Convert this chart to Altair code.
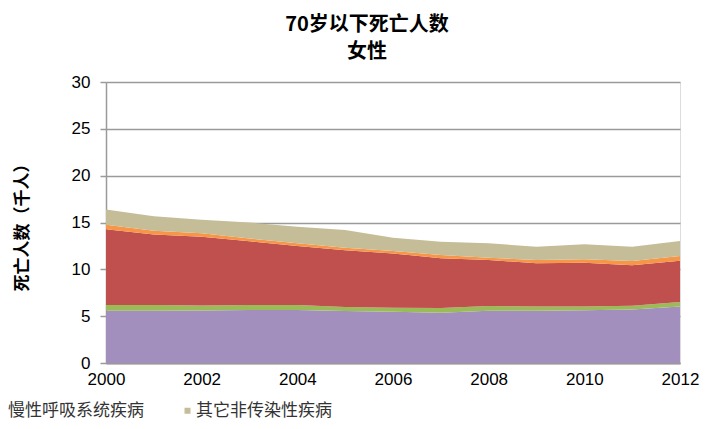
import altair as alt
import pandas as pd

years = list(range(2000, 2013))
series_names = [
    "传染性、孕产期、围生期和营养性疾病",
    "糖尿病",
    "心血管疾病和癌症",
    "慢性呼吸系统疾病",
    "其它非传染性疾病",
]
series_colors = ["#A28FBD", "#9BBB59", "#C0504D", "#F79646", "#C4BD97"]

purple = [5.58, 5.58, 5.60, 5.66, 5.66, 5.55, 5.48, 5.37, 5.58, 5.58, 5.62, 5.72, 6.02]
green = [0.61, 0.61, 0.55, 0.53, 0.54, 0.43, 0.42, 0.50, 0.51, 0.44, 0.40, 0.40, 0.49]
red = [8.08, 7.54, 7.34, 6.81, 6.29, 6.05, 5.80, 5.30, 4.91, 4.62, 4.69, 4.31, 4.41]
orange = [0.50, 0.40, 0.35, 0.30, 0.29, 0.28, 0.26, 0.36, 0.24, 0.36, 0.36, 0.46, 0.50]
tan = [1.63, 1.53, 1.46, 1.70, 1.77, 1.89, 1.42, 1.42, 1.54, 1.42, 1.60, 1.53, 1.60]

y_ticks = [0, 5, 10, 15, 20, 25, 30]
x_ticks = [2000, 2002, 2004, 2006, 2008, 2010, 2012]
legend_shown = ["慢性呼吸系统疾病", "其它非传染性疾病"]

rows = []
for i, (name, vals) in enumerate(zip(series_names, [purple, green, red, orange, tan])):
    for y, v in zip(years, vals):
        rows.append({"年份": y, "死亡人数": v, "疾病": name, "序号": i})
df = pd.DataFrame(rows)

chart = alt.Chart(df).mark_area(opacity=1, interpolate="linear").encode(
    x=alt.X(
        "年份:Q",
        scale=alt.Scale(domain=[2000, 2012], nice=False, zero=False),
        axis=alt.Axis(
            values=x_ticks, format="d", title=None, grid=False, ticks=False,
            labelFontSize=17, labelPadding=8, labelFont="Liberation Sans",
            labelColor="#000000", labelFlush=False, domainColor="#999999",
            domainWidth=2,
        ),
    ),
    y=alt.Y(
        "死亡人数:Q",
        stack="zero",
        scale=alt.Scale(domain=[0, 30], nice=False),
        axis=alt.Axis(
            values=y_ticks, title="死亡人数（千人）", grid=True,
            gridColor="#9a9a9a", gridWidth=1.5, tickColor="#9a9a9a",
            tickSize=6, tickWidth=1.5, domainColor="#9a9a9a", domainWidth=1.5,
            labelFontSize=17, labelPadding=10, labelFont="Liberation Sans",
            labelColor="#000000", titleFont="Noto Sans CJK SC",
            titleFontSize=17, titleFontWeight="bold", titleColor="#000000",
            titleX=-84, titleY=141, titleAngle=270, titleAlign="center",
            titleBaseline="middle",
        ),
    ),
    color=alt.Color(
        "疾病:N",
        scale=alt.Scale(domain=series_names, range=series_colors),
        legend=alt.Legend(
            values=legend_shown, orient="none", legendX=-115, legendY=320,
            direction="horizontal", columns=2, title=None,
            symbolType="square", symbolSize=36, symbolStrokeWidth=0,
            labelFontSize=17, labelFont="Noto Sans CJK SC",
            labelColor="#333333", labelOffset=0, columnPadding=35,
            padding=0, labelLimit=400,
        ),
    ),
    order=alt.Order("序号:Q", sort="ascending"),
).properties(
    width=574,
    height=281,
    title=alt.TitleParams(
        text=["70岁以下死亡人数", "女性"], fontSize=20, font="Noto Sans CJK SC",
        fontWeight="bold", anchor="middle", frame="group", dx=-26,
        offset=11, lineHeight=27, color="#000000",
    ),
    autosize=alt.AutoSizeParams(type="none"),
    padding={"left": 98, "top": 74, "right": 28, "bottom": 58},
).configure_view(stroke=None).configure(background="white")

chart.save("out.html", embed_options={"renderer": "svg", "actions": False})
